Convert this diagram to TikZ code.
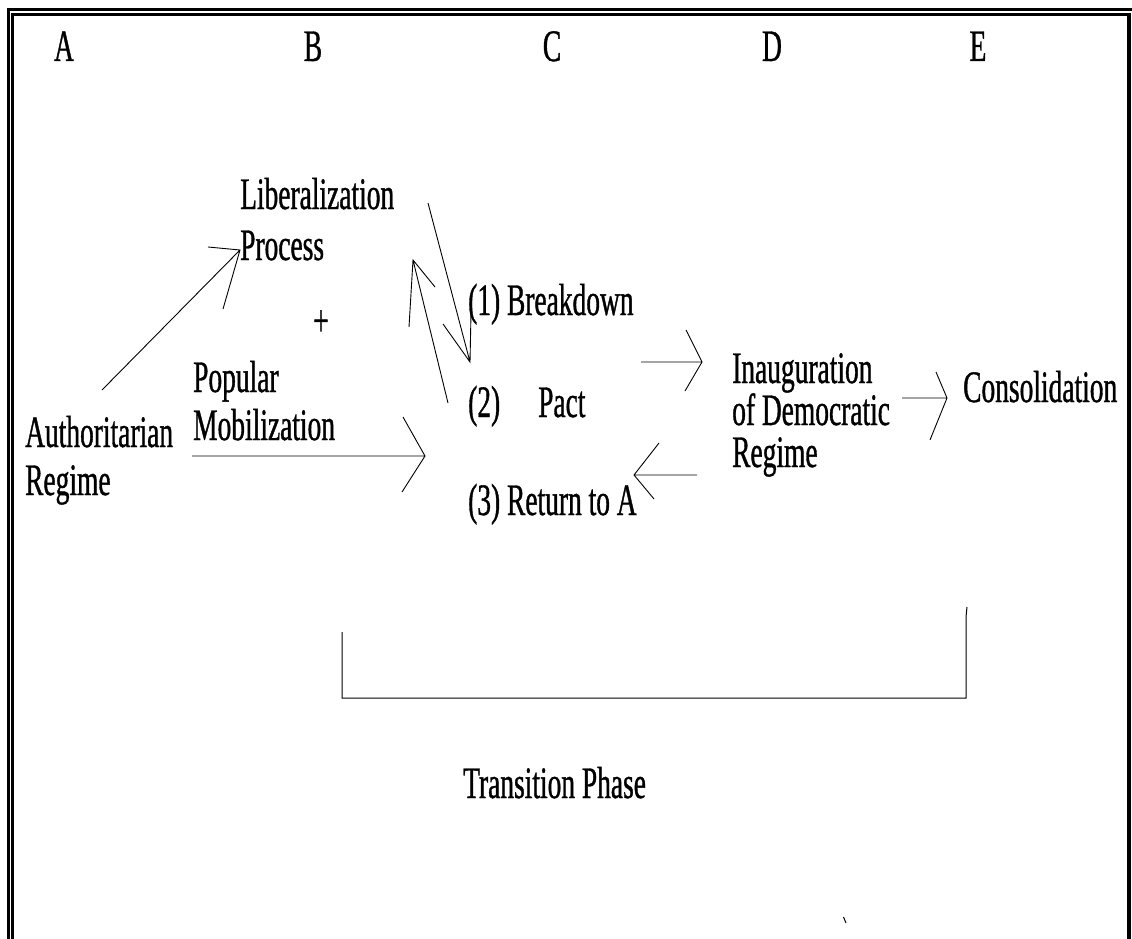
\documentclass[tikz,border=0pt]{standalone}
\usepackage{fontspec}
\setmainfont[FakeStretch=0.61,FakeBold=0.8]{Liberation Serif}
\begin{document}
\begin{tikzpicture}[x=1pt,y=-1pt,
  txt/.style={anchor=base west, inner sep=0pt, font=\fontsize{45}{47}\selectfont},
  ctxt/.style={anchor=base, inner sep=0pt, font=\fontsize{45}{47}\selectfont},
  ln/.style={line width=0.9pt},
  frame/.style={line width=3pt}]
\useasboundingbox (0,0) rectangle (1132,939);
% frame
\draw[frame] (8.5,939) -- (8.5,9.5) -- (1132,9.5);
\draw[frame] (12.8,939) -- (12.8,14.8) -- (1131,14.8);
\draw[line width=4pt] (1129,13.3) -- (1129,939);
% column letters
\node[ctxt] (A) at (64,61) {A};
\node[ctxt] (B) at (313,61) {B};
\node[ctxt] (C) at (552,61) {C};
\node[ctxt] (D) at (772,61) {D};
\node[ctxt] (E) at (978,61) {E};
% texts
\node[txt] (lib1) at (240,209) {Liberalization};
\node[txt] (lib2) at (240,260) {Process};
\node[anchor=center, inner sep=0pt, font=\fontsize{45}{47}\selectfont] (plus) at (321,323) {+};
\node[txt] (pop1) at (193,392) {Popular};
\node[txt] (pop2) at (193,440) {Mobilization};
\node[txt] (aut1) at (25,447) {Authoritarian};
\node[txt] (aut2) at (25,495) {Regime};
\node[txt] (c1) at (468,315) {(1) Breakdown};
\node[txt] (c2) at (468,417) {(2)\hspace{38pt}Pact};
\node[txt] (c3) at (468,515) {(3) Return to A};
\node[txt] (d1) at (732,383) {Inauguration};
\node[txt] (d2) at (732,425) {of Democratic};
\node[txt] (d3) at (732,467) {Regime};
\node[txt] (cons) at (963,402) {Consolidation};
\node[txt] (trans) at (463,798) {Transition Phase};
% arrow coordinates
\coordinate (a1s) at (102,390); \coordinate (a1t) at (240,250);
\coordinate (a2s) at (192,456); \coordinate (a2t) at (425,456);
\coordinate (a3s) at (448,403); \coordinate (a3t) at (413,260);
\coordinate (a4s) at (428,203); \coordinate (a4t) at (470,362);
\coordinate (a5s) at (641,362); \coordinate (a5t) at (702,362);
\coordinate (a6s) at (697,475); \coordinate (a6t) at (634,475);
\coordinate (a7s) at (902,398); \coordinate (a7t) at (947,398);
% arrows with open barbs
\draw[ln] (a1s) -- (a1t) (208,247) -- (a1t) -- (223,309);
\draw[ln] (a2s) -- (a2t) (403,417) -- (a2t) -- (402,492);
\draw[ln] (a3s) -- (a3t) (435,287) -- (a3t) -- (409,327);
\draw[ln] (a4s) -- (a4t) (443,324) -- (a4t) -- (471,313);
\draw[ln] (a5s) -- (a5t) (686,330) -- (a5t) -- (685,391);
\draw[ln] (a6s) -- (a6t) (659,443) -- (a6t) -- (654,499);
\draw[ln] (a7s) -- (a7t) (936,372) -- (a7t) -- (930,440);
% transition bracket
\coordinate (bl) at (342,632);
\coordinate (br) at (967,607);
\draw[line width=1pt] (bl) -- (342,698) -- (966,698) -- (966,617) -- (br);
% stray tick
\coordinate (tk1) at (843.5,917);
\coordinate (tk2) at (846,923);
\draw[line width=1pt] (tk1) -- (tk2);
\end{tikzpicture}
\end{document}
